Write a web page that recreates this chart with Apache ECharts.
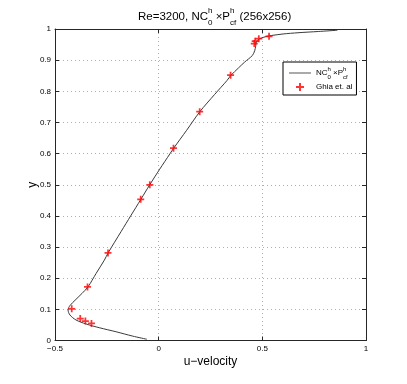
<!DOCTYPE html>
<html>
<head>
<meta charset="utf-8">
<script src="https://cdn.jsdelivr.net/npm/echarts@6/dist/echarts.min.js"></script>
<style>
html,body{margin:0;padding:0;background:#fff;}
#c{width:407px;height:384px;}
</style>
</head>
<body>
<div id="c"></div>
<script>
// Numerical solution (u, y) along vertical centreline
const simY = [0.004,0.014,0.028,0.041,0.053,0.066,0.082,0.098,0.112,0.132,0.151,0.172,0.215,0.258,0.281,0.35,0.40,0.453,0.50,0.55,0.60,0.617,0.675,0.734,0.79,0.835,0.851,0.875,0.894,0.915,0.93,0.945,0.958,0.966,0.971,0.976,0.979,0.984,0.988,0.992,0.996];
const simU = [-0.057,-0.125,-0.205,-0.286,-0.350,-0.399,-0.428,-0.437,-0.428,-0.399,-0.370,-0.341,-0.302,-0.262,-0.244,-0.181,-0.135,-0.086,-0.043,0.005,0.055,0.072,0.135,0.198,0.27,0.33,0.348,0.385,0.415,0.452,0.463,0.468,0.471,0.480,0.495,0.52,0.543,0.60,0.672,0.77,0.862];
// Ghia et al. reference data
const ghiaY = [0.9766,0.9688,0.9609,0.9531,0.8516,0.7344,0.6172,0.5000,0.4531,0.2813,0.1719,0.1016,0.0703,0.0625,0.0547];
const ghiaU = [0.53236,0.48296,0.46547,0.46101,0.34682,0.19791,0.07156,-0.04272,-0.08664,-0.24427,-0.34323,-0.41933,-0.37827,-0.35344,-0.32407];
const xTicks = [-0.5, 0, 0.5, 1];
const yTicks = [0,0.1,0.2,0.3,0.4,0.5,0.6,0.7,0.8,0.9,1];

const FONT = "'Liberation Sans', Arial, Helvetica, sans-serif";
const simName = 'sim';
const ghiaName = 'Ghia et. al';

const chart = echarts.init(document.getElementById('c'), null, {renderer:'canvas'});
const axisLineStyle = {color:'#262626', width:1};
const richScripts = {
  n:{fontSize:8, fontFamily:FONT, color:'#000', lineHeight:14, verticalAlign:'middle'},
  sup:{fontSize:6, fontFamily:FONT, color:'#000', width:0, verticalAlign:'top', lineHeight:14},
  sub:{fontSize:6, fontFamily:FONT, color:'#000', verticalAlign:'bottom', lineHeight:14}
};
const option = {
  animation:false,
  backgroundColor:'#fff',
  title:{
    text:'{n|Re=3200, NC}{sup|h}{sub|0}{n| ×P}{sup|h}{sub|cf}{n| (256x256)}',
    left:133, top:2,
    textStyle:{
      fontWeight:'normal',
      rich:{
        n:{fontSize:11.5, fontFamily:FONT, color:'#000', fontWeight:'normal', lineHeight:20, verticalAlign:'middle'},
        sup:{fontSize:8, fontFamily:FONT, color:'#000', fontWeight:'normal', width:0, verticalAlign:'top', lineHeight:20},
        sub:{fontSize:8, fontFamily:FONT, color:'#000', fontWeight:'normal', verticalAlign:'bottom', lineHeight:20}
      }
    }
  },
  grid:{left:55, right:41, top:29, bottom:43.5, containLabel:false},
  legend:{
    orient:'vertical', left:283, top:62,
    backgroundColor:'#fff', borderColor:'#000', borderWidth:1,
    padding:[4,4,4,6], itemWidth:22, itemHeight:8, itemGap:3,
    data:[{name:simName, icon:'path://M0,0H22V1H0Z', itemStyle:{color:'#555'}}, ghiaName],
    formatter:function(name){
      if(name===simName) return '{n|NC}{sup|h}{sub|0}{n| ×P}{sup|h}{sub|cf}';
      return '{n|Ghia et. al}';
    },
    textStyle:{rich:richScripts, fontFamily:FONT, fontSize:8}
  },
  xAxis:[{
    type:'value', min:-0.5, max:1, interval:0.5,
    name:'u−velocity', nameLocation:'middle', nameGap:15, nameMoveOverlap:false,
    nameTextStyle:{fontSize:12, fontFamily:FONT, color:'#000'},
    axisLine:{show:true, onZero:false, lineStyle:axisLineStyle},
    axisTick:{show:true, inside:true, length:4, lineStyle:axisLineStyle},
    axisLabel:{fontSize:8, fontFamily:FONT, color:'#000', margin:4,
      formatter:function(v){return v<0?'−'+Math.abs(v):String(v);}},
    splitLine:{show:true, lineStyle:{color:'#b0b0b0', type:[1,3], width:1}}
  },{
    type:'value', position:'top', min:-0.5, max:1, interval:0.5,
    axisLine:{show:true, onZero:false, lineStyle:axisLineStyle},
    axisTick:{show:true, inside:true, length:4, lineStyle:axisLineStyle},
    axisLabel:{show:false}, splitLine:{show:false}
  }],
  yAxis:[{
    type:'value', min:0, max:1, interval:0.1,
    name:'y', nameLocation:'middle', nameGap:16, nameRotate:90, nameMoveOverlap:false,
    nameTextStyle:{fontSize:12, fontFamily:FONT, color:'#000'},
    axisLine:{show:true, onZero:false, lineStyle:axisLineStyle},
    axisTick:{show:true, inside:true, length:4, lineStyle:axisLineStyle},
    axisLabel:{fontSize:8, fontFamily:FONT, color:'#000', margin:4,
      formatter:function(v){return String(Math.round(v*10)/10);}},
    splitLine:{show:true, lineStyle:{color:'#b0b0b0', type:[1,3], width:1}}
  },{
    type:'value', position:'right', min:0, max:1, interval:0.1,
    axisLine:{show:true, onZero:false, lineStyle:axisLineStyle},
    axisTick:{show:true, inside:true, length:4, lineStyle:axisLineStyle},
    axisLabel:{show:false}, splitLine:{show:false}
  }],
  series:[{
    name:simName, type:'line', xAxisIndex:0, yAxisIndex:0,
    data:simU.map((u,i)=>[u, simY[i]]),
    symbol:'none', smooth:0.3,
    lineStyle:{color:'#3a3a3a', width:1},
    itemStyle:{color:'#3a3a3a'}
  },{
    name:ghiaName, type:'scatter', xAxisIndex:0, yAxisIndex:0,
    data:ghiaU.map((u,i)=>[u, ghiaY[i]]),
    symbol:'path://M3,0H5V3H8V5H5V8H3V5H0V3H3Z', symbolSize:7,
    itemStyle:{color:'#ff0000'}, z:5
  }]
};
chart.setOption(option);
</script>
</body>
</html>
